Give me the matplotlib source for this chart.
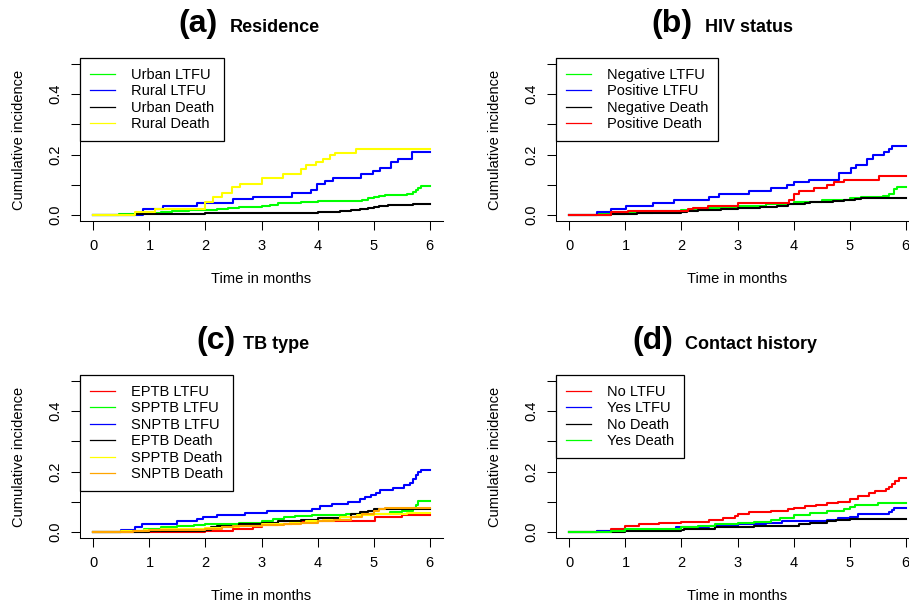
import matplotlib.pyplot as plt
from matplotlib.lines import Line2D

plt.rcParams['font.family'] = ['Liberation Sans', 'DejaVu Sans']

# ---- data (step points) ----
# (a) Residence
urban_ltfu_t = [0, 0.45, 0.75, 1.0, 1.2, 1.4, 1.7, 2.0, 2.2, 2.4, 2.6, 2.8, 3.0, 3.15, 3.3, 3.5, 3.7, 4.0, 4.6, 4.8, 4.9, 5.0, 5.1, 5.2, 5.6, 5.7, 5.75, 5.8, 5.85, 6.0]
urban_ltfu_v = [0, 0.002, 0.005, 0.008, 0.011, 0.013, 0.015, 0.018, 0.020, 0.022, 0.025, 0.028, 0.031, 0.034, 0.038, 0.041, 0.044, 0.045, 0.047, 0.050, 0.055, 0.058, 0.063, 0.067, 0.070, 0.075, 0.082, 0.090, 0.097, 0.097]
rural_ltfu_t = [0, 0.89, 1.25, 1.84, 2.5, 2.85, 3.54, 3.89, 3.99, 4.13, 4.28, 4.78, 4.99, 5.11, 5.32, 5.44, 5.69, 6.0]
rural_ltfu_v = [0, 0.019, 0.030, 0.041, 0.052, 0.061, 0.072, 0.083, 0.103, 0.113, 0.124, 0.136, 0.144, 0.156, 0.176, 0.187, 0.208, 0.208]
urban_death_t = [0, 0.75, 1.0, 2.0, 3.9, 4.0, 4.4, 4.6, 4.75, 4.9, 5.0, 5.1, 5.25, 5.5, 5.7, 6.0]
urban_death_v = [0, 0.002, 0.004, 0.005, 0.007, 0.010, 0.012, 0.016, 0.020, 0.022, 0.026, 0.030, 0.032, 0.034, 0.035, 0.035]
rural_death_t = [0, 0.74, 1.1, 2.0, 2.14, 2.29, 2.47, 2.61, 3.0, 3.39, 3.71, 3.79, 3.98, 4.1, 4.22, 4.31, 4.69, 6.0]
rural_death_v = [0, 0.011, 0.020, 0.042, 0.061, 0.072, 0.091, 0.103, 0.122, 0.136, 0.153, 0.164, 0.175, 0.186, 0.198, 0.206, 0.217, 0.217]

# (b) HIV status
neg_ltfu_t = [0, 0.5, 1.0, 1.5, 2.0, 2.5, 3.0, 3.5, 4.0, 4.5, 5.0, 5.2, 5.6, 5.7, 5.8, 5.85, 6.0]
neg_ltfu_v = [0, 0.003, 0.008, 0.013, 0.018, 0.022, 0.030, 0.037, 0.043, 0.049, 0.055, 0.060, 0.062, 0.068, 0.085, 0.091, 0.091]
pos_ltfu_t = [0, 0.5, 0.74, 1.01, 1.49, 1.87, 2.5, 2.67, 3.21, 3.59, 3.89, 4.0, 4.28, 4.81, 5.02, 5.11, 5.32, 5.42, 5.61, 5.7, 5.76, 6.0]
pos_ltfu_v = [0, 0.010, 0.019, 0.030, 0.041, 0.050, 0.061, 0.070, 0.078, 0.088, 0.099, 0.108, 0.117, 0.138, 0.156, 0.167, 0.186, 0.197, 0.208, 0.219, 0.228, 0.228]
neg_death_t = [0, 0.75, 1.0, 1.2, 2.0, 2.1, 2.3, 2.5, 2.7, 3.0, 3.4, 3.7, 3.9, 4.2, 4.3, 4.7, 4.9, 5.1, 5.2, 6.0]
neg_death_v = [0, 0.002, 0.004, 0.007, 0.009, 0.012, 0.015, 0.018, 0.020, 0.023, 0.026, 0.030, 0.035, 0.038, 0.042, 0.046, 0.050, 0.054, 0.057, 0.057]
pos_death_t = [0, 0.74, 1.04, 2.11, 2.2, 2.47, 3.0, 3.92, 4.01, 4.1, 4.37, 4.6, 4.72, 4.9, 5.53, 6.0]
pos_death_v = [0, 0.010, 0.013, 0.019, 0.022, 0.030, 0.039, 0.050, 0.070, 0.078, 0.089, 0.099, 0.108, 0.117, 0.128, 0.128]

# (c) TB type
eptb_ltfu_t = [0, 2.0, 2.5, 2.85, 3.0, 3.3, 3.55, 4.0, 5.02, 5.5, 6.0]
eptb_ltfu_v = [0, 0.003, 0.010, 0.015, 0.022, 0.027, 0.034, 0.037, 0.050, 0.056, 0.056]
spptb_ltfu_t = [0, 0.5, 0.9, 1.2, 1.5, 1.8, 2.0, 2.4, 2.6, 3.0, 3.2, 3.4, 3.6, 3.9, 4.5, 4.8, 5.3, 5.5, 5.7, 5.75, 5.8, 6.0]
spptb_ltfu_v = [0, 0.003, 0.010, 0.015, 0.020, 0.023, 0.025, 0.028, 0.030, 0.037, 0.042, 0.048, 0.054, 0.057, 0.058, 0.060, 0.065, 0.070, 0.080, 0.090, 0.102, 0.102]
snptb_ltfu_t = [0, 0.5, 0.75, 0.87, 1.5, 1.84, 1.96, 2.2, 2.7, 3.1, 3.9, 4.05, 4.25, 4.55, 4.75, 4.85, 4.95, 5.05, 5.12, 5.35, 5.55, 5.65, 5.7, 5.75, 5.8, 5.85, 6.0]
snptb_ltfu_v = [0, 0.005, 0.018, 0.027, 0.035, 0.042, 0.048, 0.055, 0.062, 0.068, 0.077, 0.085, 0.093, 0.100, 0.108, 0.117, 0.124, 0.130, 0.140, 0.147, 0.155, 0.163, 0.175, 0.190, 0.200, 0.206, 0.206]
eptb_death_t = [0, 1.0, 2.0, 2.1, 2.2, 2.6, 3.0, 3.3, 3.7, 4.0, 4.4, 4.6, 4.75, 4.9, 5.0, 6.0]
eptb_death_v = [0, 0.002, 0.005, 0.015, 0.020, 0.025, 0.030, 0.035, 0.040, 0.045, 0.050, 0.060, 0.067, 0.070, 0.077, 0.077]
spptb_death_t = [0, 0.5, 0.9, 1.2, 2.0, 2.3, 2.6, 3.0, 3.5, 3.8, 4.1, 4.4, 4.7, 5.0, 5.6, 6.0]
spptb_death_v = [0, 0.003, 0.007, 0.010, 0.012, 0.016, 0.020, 0.025, 0.030, 0.035, 0.040, 0.050, 0.055, 0.058, 0.062, 0.062]
snptb_death_t = [0, 0.7, 1.0, 1.2, 2.0, 2.3, 2.5, 3.0, 3.4, 3.7, 4.0, 4.3, 4.6, 4.8, 5.0, 5.1, 5.2, 6.0]
snptb_death_v = [0, 0.003, 0.005, 0.008, 0.010, 0.015, 0.020, 0.022, 0.025, 0.030, 0.035, 0.040, 0.050, 0.060, 0.068, 0.075, 0.081, 0.081]

# (d) Contact history
no_ltfu_t = [0, 0.5, 0.75, 1.0, 1.25, 1.6, 2.0, 2.5, 2.75, 2.95, 3.0, 3.2, 3.6, 3.9, 4.0, 4.2, 4.4, 4.6, 4.8, 5.0, 5.15, 5.35, 5.45, 5.65, 5.7, 5.75, 5.82, 5.88, 6.0]
no_ltfu_v = [0, 0.003, 0.010, 0.020, 0.025, 0.030, 0.033, 0.038, 0.045, 0.053, 0.060, 0.065, 0.070, 0.075, 0.080, 0.085, 0.090, 0.095, 0.100, 0.110, 0.120, 0.128, 0.135, 0.142, 0.150, 0.160, 0.170, 0.179, 0.179]
yes_ltfu_t = [0, 0.5, 1.0, 1.9, 2.5, 3.0, 3.5, 3.8, 4.6, 4.8, 5.0, 5.15, 5.7, 5.75, 5.8, 6.0]
yes_ltfu_v = [0, 0.003, 0.007, 0.015, 0.020, 0.025, 0.030, 0.035, 0.040, 0.045, 0.050, 0.060, 0.065, 0.072, 0.079, 0.079]
no_death_t = [0, 0.5, 1.0, 2.0, 2.05, 2.6, 3.0, 3.3, 4.1, 4.3, 4.6, 4.75, 5.0, 6.0]
no_death_v = [0, 0.001, 0.003, 0.005, 0.010, 0.015, 0.018, 0.020, 0.025, 0.030, 0.035, 0.040, 0.042, 0.042]
yes_death_t = [0, 0.75, 1.0, 2.0, 2.3, 2.6, 3.0, 3.3, 3.6, 3.75, 4.0, 4.3, 4.6, 4.9, 5.0, 5.1, 5.5, 6.0]
yes_death_v = [0, 0.003, 0.010, 0.015, 0.020, 0.027, 0.030, 0.033, 0.038, 0.045, 0.055, 0.062, 0.068, 0.075, 0.083, 0.090, 0.097, 0.097]

panels = [
    ("(a)", "Residence",
     [(urban_ltfu_t, urban_ltfu_v, "Urban LTFU", "#00FF00"),
      (rural_ltfu_t, rural_ltfu_v, "Rural LTFU", "#0000FF"),
      (urban_death_t, urban_death_v, "Urban Death", "black"),
      (rural_death_t, rural_death_v, "Rural Death", "#FFFF00")]),
    ("(b)", "HIV status",
     [(neg_ltfu_t, neg_ltfu_v, "Negative LTFU", "#00FF00"),
      (pos_ltfu_t, pos_ltfu_v, "Positive LTFU", "#0000FF"),
      (neg_death_t, neg_death_v, "Negative Death", "black"),
      (pos_death_t, pos_death_v, "Positive Death", "#FF0000")]),
    ("(c)", "TB type",
     [(eptb_ltfu_t, eptb_ltfu_v, "EPTB LTFU", "#FF0000"),
      (spptb_ltfu_t, spptb_ltfu_v, "SPPTB LTFU", "#00FF00"),
      (snptb_ltfu_t, snptb_ltfu_v, "SNPTB LTFU", "#0000FF"),
      (eptb_death_t, eptb_death_v, "EPTB Death", "black"),
      (spptb_death_t, spptb_death_v, "SPPTB Death", "#FFFF00"),
      (snptb_death_t, snptb_death_v, "SNPTB Death", "#FFA500")]),
    ("(d)", "Contact history",
     [(no_ltfu_t, no_ltfu_v, "No LTFU", "#FF0000"),
      (yes_ltfu_t, yes_ltfu_v, "Yes LTFU", "#0000FF"),
      (no_death_t, no_death_v, "No Death", "black"),
      (yes_death_t, yes_death_v, "Yes Death", "#00FF00")]),
]

W, H = 909, 606
fig = plt.figure(figsize=(W / 100, H / 100), dpi=100)

# axes rects in pixels: left, bottom-spine y
ax_px = [(80, 221), (556, 221), (80, 538), (556, 538)]
# title positions in pixels: tag left, name left, baseline y
title_px = [(178, 230, 32), (651, 705, 32), (196, 243, 349), (632, 685, 349)]

for (tag, name, series), (lx, by), (tx, nx, ty) in zip(panels, ax_px, title_px):
    ax = fig.add_axes([lx / W, (H - by) / H, 363 / W, 163 / H])
    for t, v, lab, col in series:
        ax.step(t, v, where="post", color=col, lw=1.5)
    ax.set_xlim(-0.24, 6.24)
    ax.set_ylim(-0.02, 0.52)
    ax.set_xticks(range(7))
    ax.set_yticks([0, 0.1, 0.2, 0.3, 0.4, 0.5])
    ax.set_yticklabels(["0.0", "", "0.2", "", "0.4", ""])
    ax.tick_params(length=6.5, width=0.75, labelsize=10.5, pad=6.5)
    ax.tick_params(axis="y", labelrotation=90)
    for lbl in ax.get_yticklabels():
        lbl.set_va("center")
    for s in ["top", "right"]:
        ax.spines[s].set_visible(False)
    for s in ["left", "bottom"]:
        ax.spines[s].set_linewidth(0.75)
    ax.set_xlabel("Time in months", fontsize=10.5)
    ax.xaxis.set_label_coords(0.5, -0.313)
    ax.set_ylabel("Cumulative incidence", fontsize=10.5)
    ax.yaxis.set_label_coords(-0.15, 0.5)

    handles = [Line2D([], [], color=col, lw=0.9) for _, _, _, col in series]
    labels = [lab for _, _, lab, _ in series]
    leg = ax.legend(handles, labels, loc="upper left", bbox_to_anchor=(0, 1),
                    borderaxespad=0, fontsize=10.5, fancybox=False, framealpha=1,
                    edgecolor="black", handlelength=1.75, handletextpad=1.05,
                    labelspacing=0.17, borderpad=0.68)
    leg.get_frame().set_linewidth(0.9)

    fig.text(tx / W, (H - ty) / H, tag, fontsize=23, fontweight="bold",
             ha="left", va="baseline")
    fig.text(nx / W, (H - ty) / H, name, fontsize=13, fontweight="bold",
             ha="left", va="baseline")

fig.savefig("out.png", dpi=100)
